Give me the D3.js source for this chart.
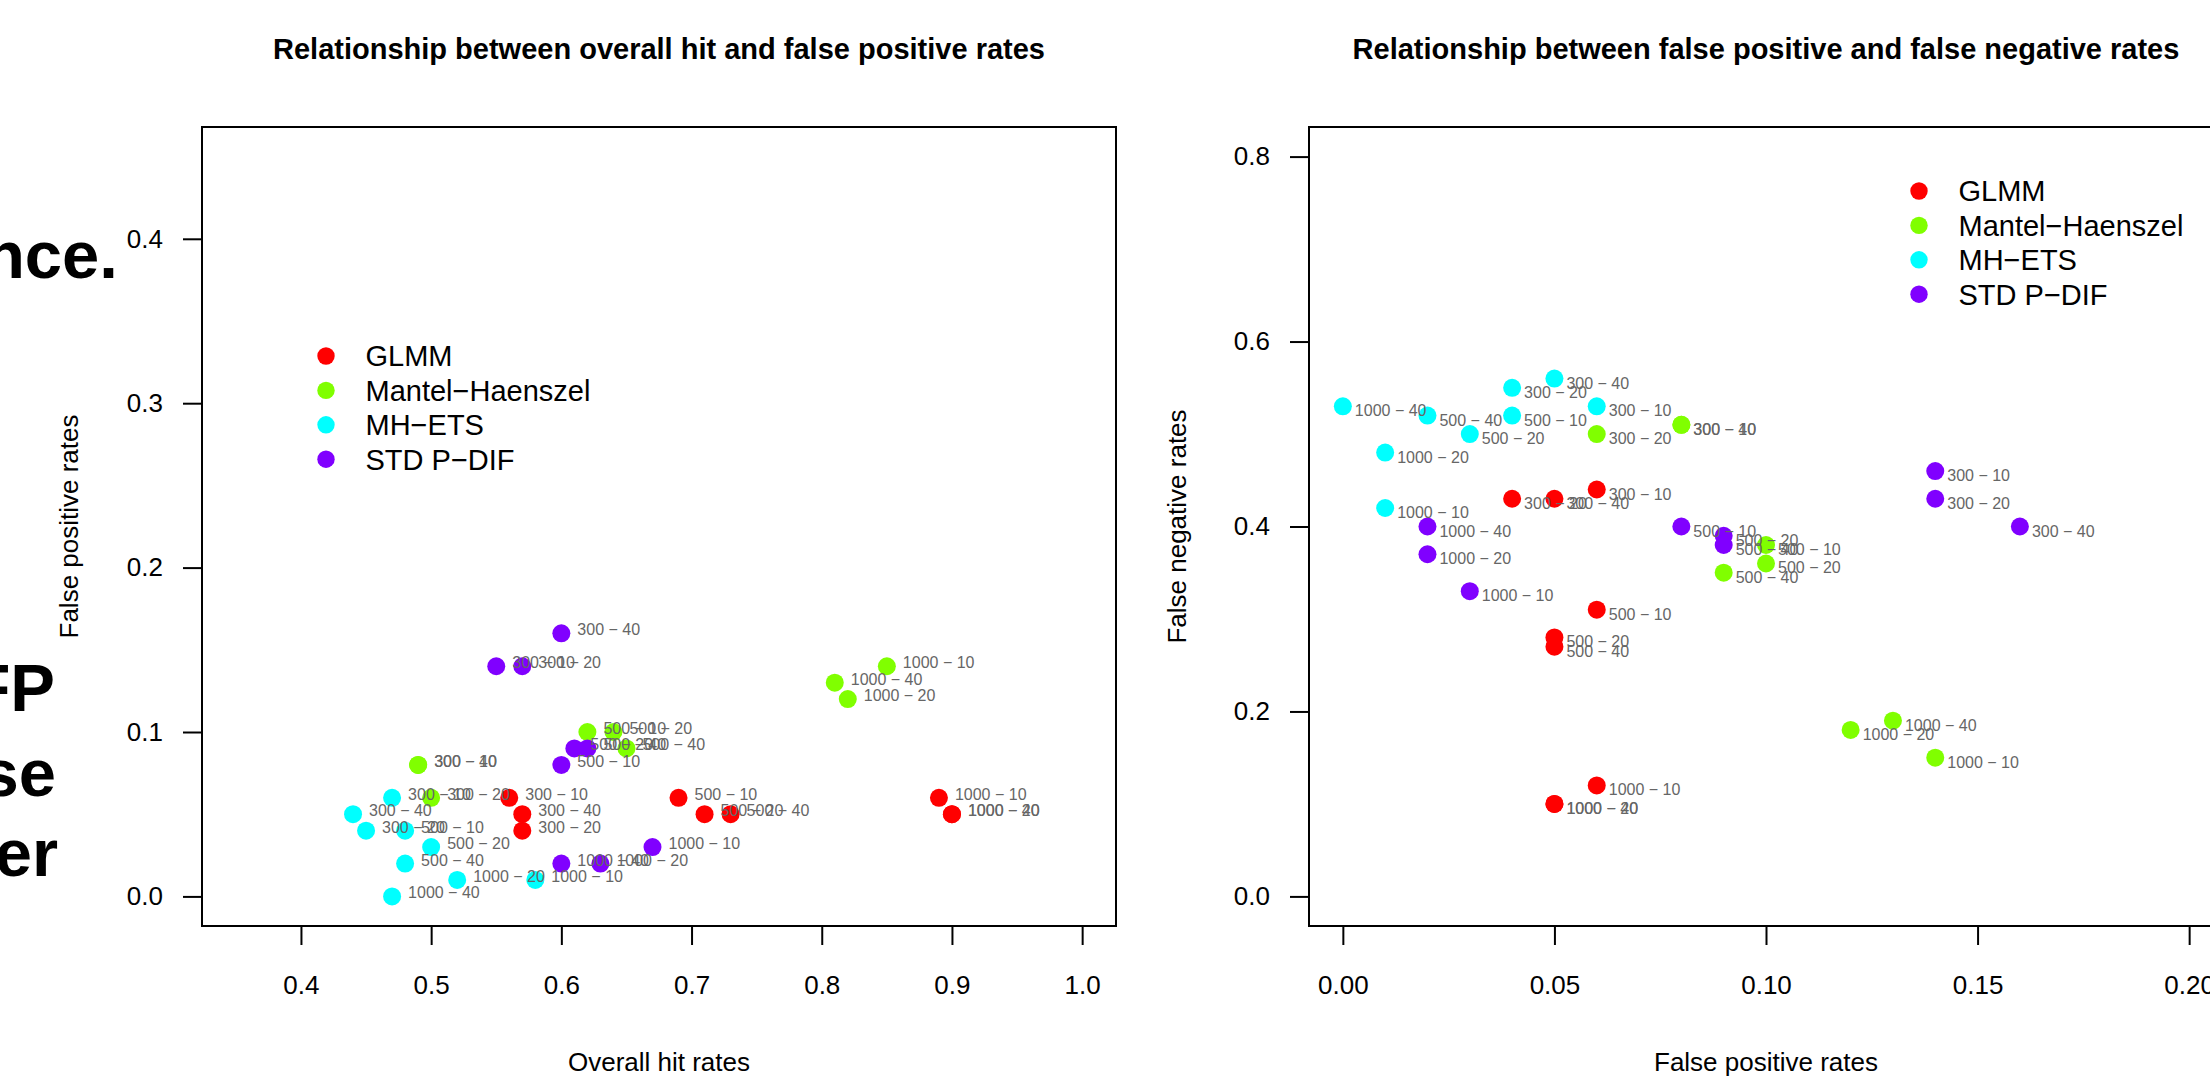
<!DOCTYPE html>
<html>
<head>
<meta charset="utf-8">
<script src="https://cdn.jsdelivr.net/npm/d3@7"></script>
<style>
  body { margin: 0; background: #fff; }
  svg { display: block; font-family: "Liberation Sans", Arial, sans-serif; }
</style>
</head>
<body>
<svg id="chart"></svg>
<script>
const width = 2210;
const height = 1078;
const plotTop = 127;
const plotBottom = 926;

// methods and simulation conditions (sample size − % DIF)
const methods = ['GLMM', 'Mantel−Haenszel', 'MH−ETS', 'STD P−DIF'];
const colors = ['#FF0000', '#80FF00', '#00FFFF', '#8000FF'];
const conditions = ['300 − 10', '300 − 20', '300 − 40',
                    '500 − 10', '500 − 20', '500 − 40',
                    '1000 − 10', '1000 − 20', '1000 − 40'];

// one row per method, columns follow conditions
const hitRates = [
  [0.56, 0.57, 0.57, 0.69, 0.71, 0.73, 0.89, 0.90, 0.90],
  [0.49, 0.50, 0.49, 0.62, 0.64, 0.65, 0.85, 0.82, 0.81],
  [0.47, 0.45, 0.44, 0.48, 0.50, 0.48, 0.58, 0.52, 0.47],
  [0.55, 0.57, 0.60, 0.60, 0.61, 0.62, 0.67, 0.63, 0.60]
];
const fpRates = [
  [0.06, 0.04, 0.05, 0.06, 0.05, 0.05, 0.06, 0.05, 0.05],
  [0.08, 0.06, 0.08, 0.10, 0.10, 0.09, 0.14, 0.12, 0.13],
  [0.06, 0.04, 0.05, 0.04, 0.03, 0.02, 0.01, 0.01, 0.00],
  [0.14, 0.14, 0.16, 0.08, 0.09, 0.09, 0.03, 0.02, 0.02]
];
const fnRates = [
  [0.44, 0.43, 0.43, 0.31, 0.28, 0.27, 0.12, 0.10, 0.10],
  [0.51, 0.50, 0.51, 0.38, 0.36, 0.35, 0.15, 0.18, 0.19],
  [0.53, 0.55, 0.56, 0.52, 0.50, 0.52, 0.42, 0.48, 0.53],
  [0.46, 0.43, 0.40, 0.40, 0.39, 0.38, 0.33, 0.37, 0.40]
];

const leftXTicks = [0.4, 0.5, 0.6, 0.7, 0.8, 0.9, 1.0];
const leftYTicks = [0.0, 0.1, 0.2, 0.3, 0.4];
const rightXTicks = [0.00, 0.05, 0.10, 0.15, 0.20];
const rightYTicks = [0.0, 0.2, 0.4, 0.6, 0.8];

// bits of slide text peeking out at the left edge
const sideText = ['nce.', 'FP', 'se', 'er'];
const sidePos = [[118, 278], [55, 711], [56, 796], [58, 876]];

const svg = d3.select('#chart')
  .attr('width', width)
  .attr('height', height);

svg.append('rect').attr('width', width).attr('height', height).attr('fill', '#fff');

svg.selectAll('.side')
  .data(sideText)
  .enter()
  .append('text')
  .attr('class', 'side')
  .attr('x', (d, i) => sidePos[i][0])
  .attr('y', (d, i) => sidePos[i][1])
  .attr('text-anchor', 'end')
  .attr('font-weight', 'bold')
  .attr('font-size', 67)
  .text(d => d);

const panels = [
  {
    title: 'Relationship between overall hit and false positive rates',
    xLab: 'Overall hit rates', yLab: 'False positive rates',
    xs: hitRates, ys: fpRates,
    xlim: [0.35, 1], ylim: [0, 0.45],
    xTicks: leftXTicks, yTicks: leftYTicks, xFmt: '.1f', yFmt: '.1f',
    box: [202, 1116], legend: [326, 356], labelDx: 16, labelDy: 2, yTitleX: 78
  },
  {
    title: 'Relationship between false positive and false negative rates',
    xLab: 'False positive rates', yLab: 'False negative rates',
    xs: fpRates, ys: fnRates,
    xlim: [0, 0.2], ylim: [0, 0.8],
    xTicks: rightXTicks, yTicks: rightYTicks, xFmt: '.2f', yFmt: '.1f',
    box: [1309, 2223], legend: [1919, 191], labelDx: 12, labelDy: 10, yTitleX: 1186
  }
];

// R style axis limits: 4% padding on each side
function pad(lim) {
  const d = (lim[1] - lim[0]) * 0.04;
  return [lim[0] - d, lim[1] + d];
}

panels.forEach(p => {
  const x = d3.scaleLinear().domain(pad(p.xlim)).range(p.box);
  const y = d3.scaleLinear().domain(pad(p.ylim)).range([plotBottom, plotTop]);
  const g = svg.append('g');
  const cx = (p.box[0] + p.box[1]) / 2;

  g.append('text')
    .attr('x', cx).attr('y', 59)
    .attr('text-anchor', 'middle')
    .attr('font-weight', 'bold')
    .attr('font-size', 29)
    .text(p.title);

  const xAxis = g.append('g')
    .attr('transform', `translate(0,${plotBottom})`)
    .call(d3.axisBottom(x).tickValues(p.xTicks).tickFormat(d3.format(p.xFmt)).tickSize(19).tickPadding(31));
  const yAxis = g.append('g')
    .attr('transform', `translate(${p.box[0]},0)`)
    .call(d3.axisLeft(y).tickValues(p.yTicks).tickFormat(d3.format(p.yFmt)).tickSize(19).tickPadding(20));

  [xAxis, yAxis].forEach(a => {
    a.attr('font-size', 26).attr('font-family', null);
    a.select('.domain').remove();
    a.selectAll('line').attr('stroke', '#000').attr('stroke-width', 2);
    a.selectAll('text').attr('fill', '#000');
  });

  g.append('rect')
    .attr('x', p.box[0]).attr('y', plotTop)
    .attr('width', p.box[1] - p.box[0]).attr('height', plotBottom - plotTop)
    .attr('fill', 'none').attr('stroke', '#000').attr('stroke-width', 2);

  g.append('text')
    .attr('x', cx).attr('y', 1071)
    .attr('text-anchor', 'middle')
    .attr('font-size', 26)
    .text(p.xLab);

  g.append('text')
    .attr('transform', `translate(${p.yTitleX},${(plotTop + plotBottom) / 2}) rotate(-90)`)
    .attr('text-anchor', 'middle')
    .attr('font-size', 26)
    .text(p.yLab);

  const pts = [];
  methods.forEach((m, mi) => {
    conditions.forEach((c, ci) => {
      pts.push({ m: mi, label: c, xv: p.xs[mi][ci], yv: p.ys[mi][ci] });
    });
  });

  g.selectAll('circle.pt')
    .data(pts)
    .enter()
    .append('circle')
    .attr('class', 'pt')
    .attr('cx', d => x(d.xv))
    .attr('cy', d => y(d.yv))
    .attr('r', 9)
    .attr('fill', d => colors[d.m]);

  g.selectAll('text.lab')
    .data(pts)
    .enter()
    .append('text')
    .attr('class', 'lab')
    .attr('x', d => x(d.xv) + p.labelDx)
    .attr('y', d => y(d.yv) + p.labelDy)
    .attr('font-size', 16)
    .attr('fill', '#666')
    .text(d => d.label);

  // legend, no box
  const leg = g.append('g').attr('transform', `translate(${p.legend[0]},${p.legend[1]})`);
  leg.selectAll('circle')
    .data(methods)
    .enter()
    .append('circle')
    .attr('cx', 0)
    .attr('cy', (d, i) => i * 34.4)
    .attr('r', 8.7)
    .attr('fill', (d, i) => colors[i]);
  leg.selectAll('text')
    .data(methods)
    .enter()
    .append('text')
    .attr('x', 39.5)
    .attr('y', (d, i) => i * 34.4 + 10.4)
    .attr('font-size', 29)
    .text(d => d);
});
</script>
</body>
</html>
